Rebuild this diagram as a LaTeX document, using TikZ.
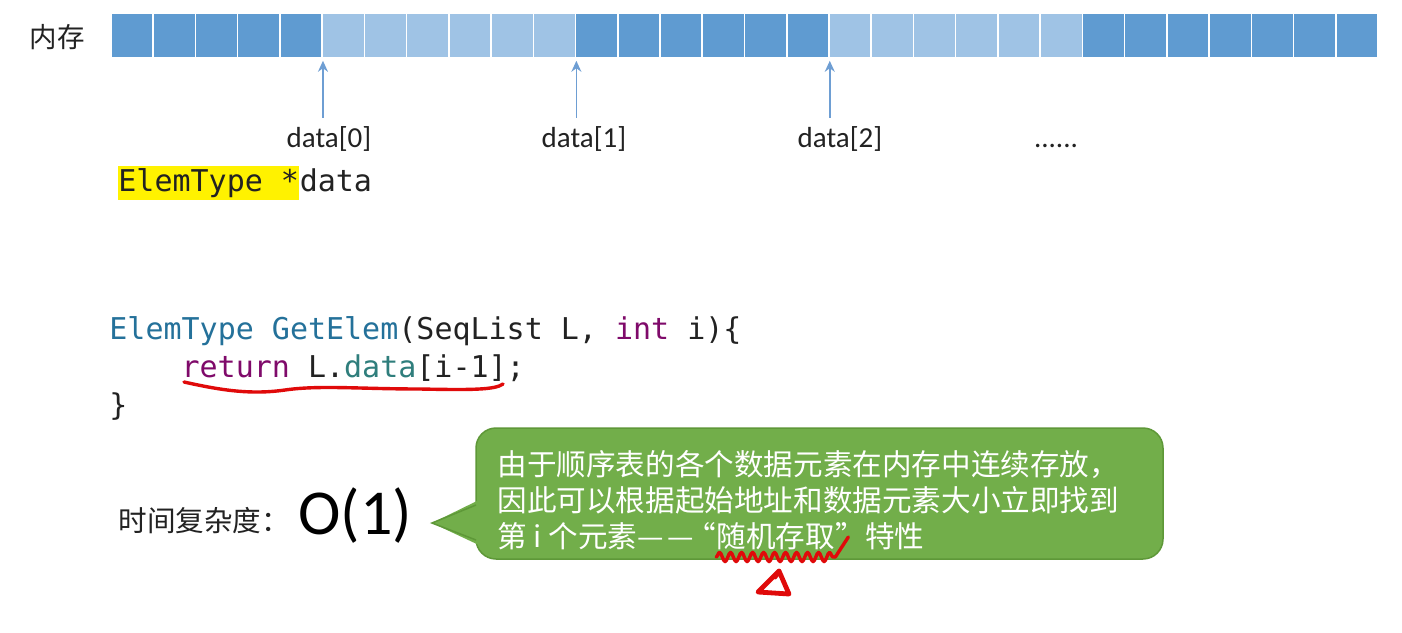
\documentclass[tikz,border=0pt]{standalone}
\usepackage{fontspec}
\setmainfont{Carlito}
\setmonofont{DejaVu Sans Mono}
\newfontfamily\cjk{Noto Sans CJK SC}
\usetikzlibrary{arrows.meta,decorations.pathmorphing}
\definecolor{dk}{HTML}{5F9BD1}
\definecolor{lt}{HTML}{9FC3E5}
\definecolor{ptrc}{HTML}{6E9ED3}
\definecolor{kwblue}{HTML}{24719A}
\definecolor{kwteal}{HTML}{2F7E7C}
\definecolor{kwpurple}{HTML}{7F0A6A}
\definecolor{calfill}{HTML}{72AE4A}
\definecolor{caldraw}{HTML}{5E9838}
\definecolor{pen}{HTML}{E00A0A}
\definecolor{txt}{HTML}{222222}
\begin{document}
\begin{tikzpicture}[x=0.5pt,y=-0.5pt,
  cell/.style={rectangle, minimum width=21.12pt, minimum height=22.5pt, inner sep=0, draw=white, line width=0.8pt},
  lbl/.style={inner sep=0, font=\fontsize{14.5pt}{17pt}\selectfont, text=txt},
  ptr/.style={draw=ptrc, line width=0.75pt, -{Stealth[length=5.5pt,width=5pt]}},
  code/.style={inner sep=0, font=\ttfamily\fontsize{15pt}{18pt}\selectfont, text=txt},
  cjktxt/.style={inner sep=0, font=\cjk\fontsize{14.3pt}{17pt}\selectfont, text=txt},
  note/.style={inner sep=0, font=\cjk\fontsize{14.8pt}{18pt}\selectfont, text=white},
  redpen/.style={draw=pen, line width=1.7pt, line cap=round, line join=round}]
\fill[white] (0,0) rectangle (1402,632);
\useasboundingbox (0,0) rectangle (1402,632);

% memory label
\node[cjktxt, font=\cjk\fontsize{13.75pt}{16pt}\selectfont] (mem) at (57,37) {内存};

% memory cells
\foreach \i in {0,...,29}{
  \pgfmathtruncatemacro\isl{((\i>4 && \i<11) || (\i>16 && \i<23)) ? 1 : 0}
  \ifnum\isl=1 \def\cc{lt}\else\def\cc{dk}\fi
  \node[cell, fill=\cc] (c\i) at ({111+21.117+42.233*\i}, 35.5) {};
}

% pointer labels
\node[lbl, anchor=base] (lab0) at (329,147) {data[0]};
\node[lbl, anchor=base] (lab1) at (584,147) {data[1]};
\node[lbl, anchor=base] (lab2) at (840,147) {data[2]};
\node[lbl, anchor=base] (dots) at (1056,147) {......};
\coordinate (t0) at (lab0.north -| c4.south east);
\coordinate (t1) at (lab1.north -| c10.south east);
\coordinate (t2) at (lab2.north -| c16.south east);
\draw[ptr] ([yshift=4pt]t0) -- ([yshift=-1pt]c4.south east);
\draw[ptr] ([yshift=4pt]t1) -- ([yshift=-1pt]c10.south east);
\draw[ptr] ([yshift=4pt]t2) -- ([yshift=-1pt]c16.south east);

% pointer declaration
\node[code, anchor=base west, fill=yellow, text height=12.5pt, text depth=4.5pt] (hl) at (118,191) {ElemType *};
\node[code, anchor=base west] (decl) at (hl.base east) {data};

% code
\node[code, anchor=base west] (l1) at (109,339) {{\color{kwblue}ElemType GetElem}(SeqList L, {\color{kwpurple}int} i)\{};
\node[code, anchor=base west] (l2) at (181.2,377) {{\color{kwpurple}return} L.{\color{kwteal}data}[i-1];};
\node[code, anchor=base west] (l3) at (109,415) {\}};
\draw[redpen] (184,382) .. controls (220,390) and (250,395) .. (285,390) .. controls (320,385) and (360,389) .. (420,389) .. controls (470,390) and (495,390) .. (503,384);

% complexity
\node[cjktxt, anchor=west] (tc) at (118,521) {时间复杂度：};
\node[inner sep=0, font=\fontsize{32pt}{36pt}\selectfont, anchor=west, text=black] (o1) at (298,516) {O(1)};

% callout
\draw[fill=calfill, draw=caldraw, line width=0.75pt, rounded corners=10pt] (476,428) rectangle (1163,559);
\fill[calfill] (481,499) -- (432,523) -- (481,546) -- cycle;
\draw[caldraw, line width=0.75pt, line join=miter] (476,505) -- (432,523) -- (476,540);
\node[note, anchor=base west] (n1) at (497,475) {由于顺序表的各个数据元素在内存中连续存放，};
\node[note, anchor=base west] (n2) at (497,511) {因此可以根据起始地址和数据元素大小立即找到};
\node[note, anchor=base west] (n3a) at (497,547) {第 i 个元素\mbox{—}\kern2pt\mbox{—}\kern-4pt“};
\node[note, anchor=base west] (n3b) at (n3a.base east) {随机存取};
\node[note, anchor=base west] (n3c) at (n3b.base east) {”特性};

% red marks
\draw[redpen, decorate, decoration={snake, amplitude=2.3pt, segment length=5.5pt}] ([yshift=-5pt]n3b.base west) -- ([yshift=-5pt]n3b.base east);
\draw[redpen] ([yshift=-5pt]n3b.base east) -- ++(6.5pt,10pt);
\draw[redpen, line width=2.4pt] (779,571) -- (758,592) -- (789,594) -- (779,571) -- (775,577);
\end{tikzpicture}
\end{document}
